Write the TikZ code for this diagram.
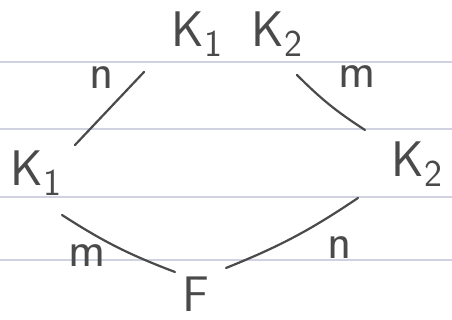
\documentclass[tikz,border=0pt]{standalone}
\usetikzlibrary{positioning}
\definecolor{pencil}{HTML}{4A4A4A}
\definecolor{ruleblue}{HTML}{D0D2E2}
\newcommand{\lowidx}[1]{\raisebox{-0.45ex}{\fontsize{19}{19}\selectfont#1}}

\begin{document}
\begin{tikzpicture}[
        x=0.5pt, y=0.5pt,
        every node/.style={inner sep=0pt, text=pencil},
        field/.style={font=\sffamily\fontsize{25}{27}\selectfont},
        degree/.style={font=\sffamily\fontsize{25}{27}\selectfont},
        edge/.style={draw=pencil, line width=1.1pt, line cap=round},
        ruling/.style={draw=ruleblue, line width=0.6pt}
    ]
        \useasboundingbox (0,0) rectangle (452,320);
        \fill[white] (0,0) rectangle (452,320);

        % lined paper
        \foreach \y in {60,123,191,258}
            \draw[ruling] (0,\y) -- (452,\y);

        % fields of the tower
        \node[field] (K12) at (237,286) {K\lowidx{1}\hspace{0.6em}K\lowidx{2}};
        \node[field] (K1) at (36,147) {K\lowidx{1}};
        \node[field] (K2) at (417,156) {K\lowidx{2}};
        \node[field] (F) at (196,26) {F};

        % loose ends of the strokes
        \coordinate (K1-up) at (75,175);
        \coordinate (K12-dl) at (144,248);
        \coordinate (K12-dr) at (297,245);
        \coordinate (K2-up) at (365,190);
        \coordinate (K1-dn) at (62,105);
        \coordinate (F-l) at (175,48);
        \coordinate (K2-dn) at (358,122);
        \coordinate (F-r) at (226,52);

        \draw[edge] (K1-up) -- (K12-dl);
        \draw[edge] (K12-dr) to[bend right=6] (K2-up);
        \draw[edge] (K1-dn) to[bend right=6] (F-l);
        \draw[edge] (K2-dn) to[bend left=6] (F-r);

        % degrees
        \node[degree] (dTL) at (102,242) {n};
        \node[degree] (dTR) at (357,243) {m};
        \node[degree] (dBL) at (87,64) {m};
        \node[degree] (dBR) at (340,72) {n};
    \end{tikzpicture}
\end{document}
